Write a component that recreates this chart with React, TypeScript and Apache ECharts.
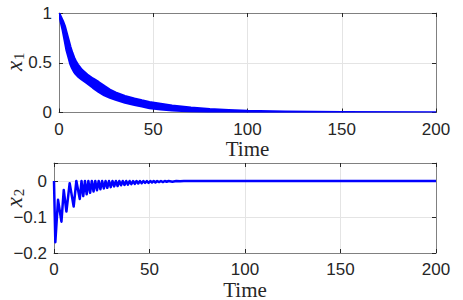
import React, { useEffect, useRef } from 'react';
import * as echarts from 'echarts';

// Time axis ticks (shared)
const timeTicks = [0, 50, 100, 150, 200];
// x1 axis ticks
const x1Ticks = [0, 0.5, 1];
// x2 axis ticks (axis extends slightly above 0)
const x2Ticks = [-0.2, -0.1, 0];
const x2Max = 0.05;

// x1: oscillating decay drawn as a band (upper / lower envelope of the fast oscillation)
const x1T = [0, 1, 2, 3, 4, 5, 6, 7, 8, 9, 10, 12, 15, 18, 21, 24, 27, 30, 35, 40, 44, 48, 54, 60, 70, 80, 90, 100, 120, 150, 200];
const x1Upper = [1.0, 0.96, 0.92, 0.87, 0.8, 0.73, 0.66, 0.6, 0.55, 0.51, 0.48, 0.43, 0.38, 0.34, 0.305, 0.265, 0.228, 0.2, 0.165, 0.138, 0.12, 0.104, 0.085, 0.068, 0.047, 0.032, 0.022, 0.014, 0.007, 0.002, 0];
const x1Lower = [1.0, 0.91, 0.83, 0.73, 0.63, 0.56, 0.49, 0.445, 0.41, 0.385, 0.365, 0.335, 0.295, 0.25, 0.21, 0.175, 0.15, 0.13, 0.1, 0.078, 0.062, 0.046, 0.033, 0.023, 0.012, 0.007, 0.004, 0.002, 0.001, 0, 0];

// x2: damped oscillation (peaks and troughs)
const x2T = [0, 0.7, 2.1, 3.9, 5.1, 6.5, 8.2, 10.3, 11.7, 13.5,
  14.4, 15.3, 16.2, 17.1, 18.0, 18.9, 19.8, 20.7, 21.6, 22.5,
  23.4, 24.3, 25.2, 26.1, 27.0, 27.9, 28.8, 29.7, 30.6, 31.5,
  32.4, 33.3, 34.2, 35.1, 36.0, 36.9, 37.8, 38.7, 39.6, 40.5,
  41.4, 42.3, 43.2, 44.1, 45.0, 45.9, 46.8, 47.7, 48.6, 49.5,
  50.4, 51.3, 52.2, 53.1, 54.0, 55.0, 56.0, 57.0, 58.0, 59.0,
  60, 62, 64, 66, 68, 70, 200];
const x2V = [0, -0.17, -0.052, -0.113, -0.025, -0.085, -0.006, -0.071, 0, -0.05,
  0, -0.042, 0, -0.037, 0, -0.033, 0, -0.029, 0, -0.026,
  0, -0.023, 0, -0.021, 0, -0.019, 0, -0.017, 0, -0.015,
  0, -0.014, 0, -0.012, 0, -0.011, 0, -0.01, 0, -0.009,
  0, -0.008, 0, -0.007, 0, -0.006, 0, -0.005, 0, -0.005,
  0, -0.004, 0, -0.004, 0, -0.003, 0, -0.003, 0, -0.002,
  0, -0.002, 0, -0.001, 0, 0, 0];

const BLUE = '#0000ff';
const AXIS = '#808080';
const TICK = '#262626';
const GRIDC = '#e4e4e4';
const TXT = '#262626';
const SANS = '"Liberation Sans", Arial, sans-serif';
const SERIF = '"Liberation Serif", "Times New Roman", serif';

function mainX(gridIndex: number) {
  return {
    type: 'value', gridIndex, position: 'bottom',
    min: timeTicks[0], max: timeTicks[timeTicks.length - 1], interval: timeTicks[1] - timeTicks[0],
    axisLine: { show: true, onZero: false, lineStyle: { color: AXIS, width: 1 } },
    axisTick: { show: true, inside: true, length: 4, lineStyle: { color: TICK } },
    axisLabel: { margin: 8, fontFamily: SANS, fontSize: 17, color: TXT },
    splitLine: { show: true, lineStyle: { color: GRIDC, width: 1 } },
    name: 'Time', nameLocation: 'middle', nameGap: 26, nameMoveOverlap: false,
    nameTextStyle: { fontFamily: SERIF, fontSize: 21, color: TXT },
  };
}
function boxX(gridIndex: number) {
  return {
    type: 'value', gridIndex, position: 'top',
    min: timeTicks[0], max: timeTicks[timeTicks.length - 1], interval: timeTicks[1] - timeTicks[0],
    axisLine: { show: true, onZero: false, lineStyle: { color: AXIS, width: 1 } },
    axisTick: { show: true, inside: true, length: 4, lineStyle: { color: TICK } },
    axisLabel: { show: false }, splitLine: { show: false },
  };
}
function mainY(gridIndex: number, ticks: number[], max: number, sub: string, gap: number, shiftUp: number) {
  return {
    type: 'value', gridIndex, position: 'left',
    min: ticks[0], max, interval: ticks[1] - ticks[0],
    axisLine: { show: true, onZero: false, lineStyle: { color: AXIS, width: 1 } },
    axisTick: { show: true, inside: true, length: 4, lineStyle: { color: TICK } },
    axisLabel: {
      margin: 7, fontFamily: SANS, fontSize: 17, color: TXT,
      formatter: (v: number) => (ticks.some((t) => Math.abs(t - v) < 1e-9) ? String(Number(v.toFixed(2))).replace('-', '\u2212') : ''),
    },
    splitLine: { show: true, lineStyle: { color: GRIDC, width: 1 } },
    name: `{x|x}{s|${sub}}`, nameLocation: 'middle', nameGap: gap, nameRotate: 90, nameMoveOverlap: false,
    nameTextStyle: {
      padding: [0, 0, 0, shiftUp * 2],
      rich: {
        x: { fontFamily: SERIF, fontStyle: 'italic', fontSize: 23, color: TXT, lineHeight: 20, height: 20 },
        s: { fontFamily: SERIF, fontSize: 15, color: TXT, lineHeight: 11, height: 11, padding: [9, 0, 0, 1] },
      },
    },
  };
}
function boxY(gridIndex: number, ticks: number[], max: number) {
  return {
    type: 'value', gridIndex, position: 'right',
    min: ticks[0], max, interval: ticks[1] - ticks[0],
    axisLine: { show: true, onZero: false, lineStyle: { color: AXIS, width: 1 } },
    axisTick: { show: true, inside: true, length: 4, lineStyle: { color: TICK } },
    axisLabel: { show: false }, splitLine: { show: false },
  };
}

export default function App() {
  const ref = useRef<HTMLDivElement>(null);
  useEffect(() => {
    const chart = echarts.init(ref.current as HTMLDivElement, null, { renderer: 'svg' });
    const bandData = x1T.map((t, i) => [t, x1Lower[i], x1Upper[i]]);
    const option: any = {
      animation: false,
      backgroundColor: '#ffffff',
      grid: [
        { left: 59, top: 13, width: 377, height: 99.5, outerBoundsMode: 'none', containLabel: false },
        { left: 54, top: 163, width: 382, height: 90, outerBoundsMode: 'none', containLabel: false },
      ],
      xAxis: [mainX(0), boxX(0), mainX(1), boxX(1)],
      yAxis: [
        mainY(0, x1Ticks, x1Ticks[x1Ticks.length - 1], '1', 35, 1),
        boxY(0, x1Ticks, x1Ticks[x1Ticks.length - 1]),
        mainY(1, x2Ticks, x2Max, '2', 30, 10),
        boxY(1, x2Ticks, x2Max),
      ],
      series: [
        {
          type: 'custom', xAxisIndex: 0, yAxisIndex: 0, clip: true,
          data: bandData,
          encode: { x: 0, y: [1, 2] },
          renderItem: (params: any, api: any) => {
            if (params.dataIndex !== 0) return null;
            const pts: number[][] = [];
            for (let i = 0; i < bandData.length; i++) pts.push(api.coord([bandData[i][0], bandData[i][2]]));
            for (let i = bandData.length - 1; i >= 0; i--) pts.push(api.coord([bandData[i][0], bandData[i][1]]));
            return {
              type: 'polygon',
              shape: { points: pts },
              style: { fill: BLUE, stroke: BLUE, lineWidth: 2.5, lineJoin: 'round' },
            };
          },
        },
        {
          type: 'line', xAxisIndex: 2, yAxisIndex: 2,
          data: x2T.map((t, i) => [t, x2V[i]]),
          showSymbol: false, symbol: 'none',
          lineStyle: { color: BLUE, width: 2.5, join: 'round' },
        },
      ],
    };
    chart.setOption(option);
    return () => chart.dispose();
  }, []);
  return (
    <div
      ref={ref}
      style={{ position: 'absolute', left: 0, top: 0, width: 463, height: 300, background: '#fff' }}
    />
  );
}
